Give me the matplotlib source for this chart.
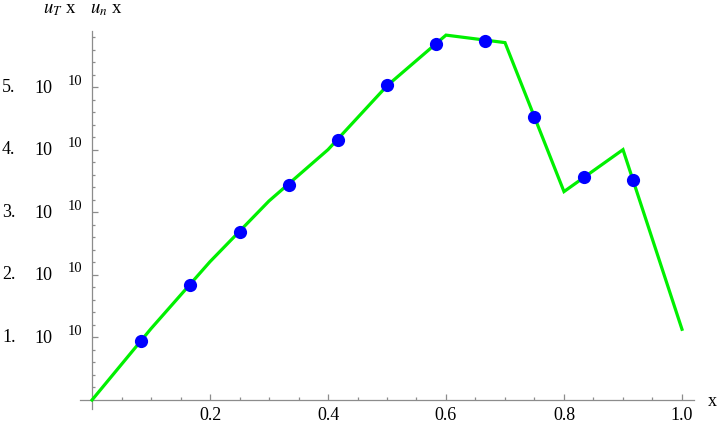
import numpy as np
import matplotlib
matplotlib.use("Agg")
import matplotlib.pyplot as plt
from matplotlib.ticker import FixedLocator

plt.rcParams['font.family'] = ['Liberation Serif', 'DejaVu Serif']
plt.rcParams['mathtext.fontset'] = 'stix'

# green curve (u_T), piecewise linear
line_x = [0.0, 0.1, 0.2, 0.3, 0.4, 0.5, 0.6, 0.7, 0.8, 0.9, 1.0]
line_y = [0.0, 1.14, 2.21, 3.18, 4.00, 5.02, 5.83, 5.71, 3.33, 4.00, 1.13]

# blue points (u_n)
pts_x = [1/12, 2/12, 3/12, 4/12, 5/12, 6/12, 7/12, 8/12, 9/12, 10/12, 11/12]
pts_y = [0.95, 1.84, 2.68, 3.44, 4.15, 5.03, 5.69, 5.73, 4.52, 3.56, 3.52]

# tick labels
xticks = [0.2, 0.4, 0.6, 0.8, 1.0]
xlabels = ["0.2", "0.4", "0.6", "0.8", "1.0"]
yticks = [1, 2, 3, 4, 5]
ymant = ["1.", "2.", "3.", "4.", "5."]
ybase = "10"
yexp = "10"

axis_col = "#8c8c8c"

fig = plt.figure(figsize=(7.2, 4.25), dpi=100)
ax = fig.add_axes([0.1114, 0.0367, 0.8522, 0.891])
ax.set_xlim(-0.02, 1.02)
ax.set_ylim(-0.15, 5.9)

ax.plot(line_x, line_y, color="#00f000", lw=2.3, solid_joinstyle="miter", zorder=3, clip_on=False)
ax.plot(pts_x, pts_y, "o", color="#0000ff", ms=9.5, mec="none", zorder=4, clip_on=False)

for s in ["top", "right"]:
    ax.spines[s].set_visible(False)
for s in ["left", "bottom"]:
    ax.spines[s].set_position(("data", 0))
    ax.spines[s].set_color(axis_col)
    ax.spines[s].set_linewidth(0.9)

ax.xaxis.set_major_locator(FixedLocator(xticks))
ax.xaxis.set_minor_locator(FixedLocator([v for v in np.arange(0.05, 1.01, 0.05) if abs(v / 0.2 - round(v / 0.2)) > 1e-6]))
ax.set_xticklabels(xlabels)
ax.yaxis.set_major_locator(FixedLocator(yticks))
ax.yaxis.set_minor_locator(FixedLocator([v for v in np.arange(0.2, 5.85, 0.2) if abs(v - round(v)) > 1e-6]))
ax.set_yticklabels([])

ax.tick_params(which="both", direction="in", color=axis_col, width=0.9)
ax.tick_params(which="major", length=4.5)
ax.tick_params(which="minor", length=2.5)
ax.tick_params(axis="x", labelsize=13, pad=5)

# mathematica-style y labels: "n.  10 ^10"
for yv, m in zip(yticks, ymant):
    ax.annotate(m, xy=(0, yv), xycoords="data", xytext=(-90, 0), textcoords="offset pixels",
                ha="left", va="center", fontsize=13)
    ax.annotate(ybase, xy=(0, yv), xycoords="data", xytext=(-49, -1), textcoords="offset pixels",
                ha="center", va="center", fontsize=13)
    ax.annotate(yexp, xy=(0, yv), xycoords="data", xytext=(-17, 6), textcoords="offset pixels",
                ha="center", va="center", fontsize=10.5)

fig.text(43 / 720, 1 - 9 / 425, r"$u_T$ x", ha="left", va="center", fontsize=13.5)
fig.text(90 / 720, 1 - 9 / 425, r"$u_n$ x", ha="left", va="center", fontsize=13.5)
fig.text(712 / 720, 1 - 401 / 425, "x", ha="center", va="center", fontsize=13)

fig.savefig("out.png", dpi=100)
